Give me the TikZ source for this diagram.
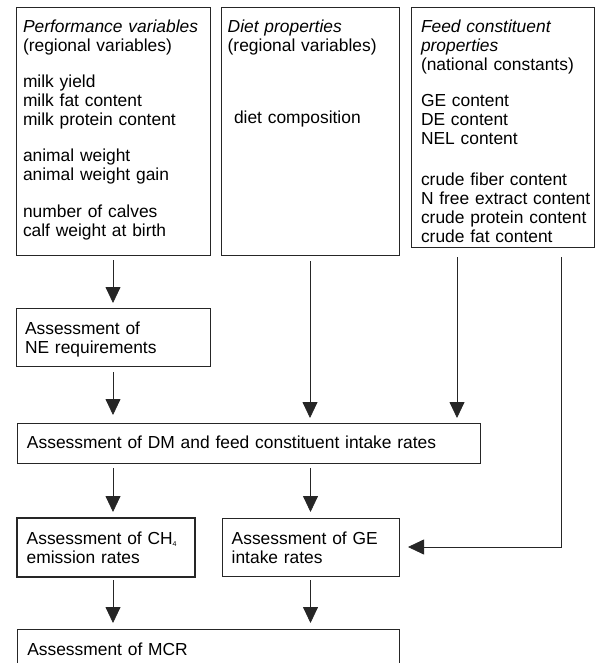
\documentclass[tikz,border=0pt]{standalone}
\usepackage{fontspec}
\setmainfont{Liberation Sans}
\usetikzlibrary{arrows.meta,calc}
\begin{document}
\begin{tikzpicture}[x=1pt,y=-1pt,
  box/.style={draw=black!85,line width=0.8pt,inner sep=0pt,outer sep=0pt,anchor=north west},
  thickbox/.style={box,line width=2.2pt},
  txt/.style={inner sep=0pt,outer sep=0pt,anchor=base west,align=left,text width=190pt},
  arr/.style={draw=black!85,line width=0.8pt,-{Triangle[length=16pt,width=15pt]}},
  font=\fontsize{17.4}{19}\selectfont]
\clip (0,0) rectangle (613,663);
\fill[white] (0,0) rectangle (613,663);
% boxes
\node[box,minimum width=194pt,minimum height=248pt] (perf) at (16,7) {};
\node[box,minimum width=178pt,minimum height=248pt] (diet) at (221,7) {};
\node[box,minimum width=183pt,minimum height=240pt] (feed) at (411,7) {};
\node[box,minimum width=194pt,minimum height=58pt] (ne) at (16,308) {};
\node[box,minimum width=462.5pt,minimum height=40pt] (dm) at (17.5,423) {};
\node[thickbox,minimum width=178pt,minimum height=59pt] (ch) at (17,518) {};
\node[box,minimum width=177pt,minimum height=58pt] (ge) at (222,518) {};
\node[box,minimum width=382pt,minimum height=80pt] (mcr) at (17,629) {};
% texts
\node[txt] (perfT) at (23,32.3) {\textit{Performance variables}\\(regional variables)\\[17pt]
milk yield\\milk fat content\\milk protein content\\[17.5pt]
animal weight\\animal weight gain\\[17.5pt]
number of calves\\calf weight at birth};
\node[txt] (dietT) at (227.7,32.3) {\textit{Diet properties}\\(regional variables)};
\node[txt] (dietC) at (234,124) {diet composition};
\node[txt] (feedT) at (421,32.3) {\textit{Feed constituent}\\\textit{properties}\\(national constants)\\[17.5pt]
GE content\\DE content\\NEL content\\[21.5pt]
crude fiber content\\N free extract content\\crude protein content\\crude fat content};
\node[txt] (neT) at (25,334) {Assessment of\\NE requirements};
\node[txt,text width=450pt] (dmT) at (27,448) {Assessment of DM and feed constituent intake rates};
\node[txt] (chT) at (26.7,544) {Assessment of CH\raisebox{-2.5pt}{\fontsize{7}{7}\selectfont 4}\\emission rates};
\node[txt] (geT) at (231.7,544) {Assessment of GE\\intake rates};
\node[txt] (mcrT) at (27.3,655) {Assessment of MCR};
% arrows
\draw[arr,shorten <=5pt,shorten >=5pt] (perf.south) -- (ne.north);
\draw[arr,shorten <=6pt,shorten >=8pt] (ne.south) -- (ne.south |- dm.north);
\draw[arr,shorten <=6pt,shorten >=5pt] (diet.south) -- (diet.south |- dm.north);
\draw[arr,shorten <=10pt,shorten >=5pt] ([xshift=46pt]feed.south west) -- ([xshift=46pt]feed.south west |- dm.north);
\draw[arr,shorten <=10pt,shorten >=9pt] ([xshift=-33pt]feed.south east) |- (ge.east);
\draw[arr,shorten <=5pt,shorten >=6pt] (ne.south |- dm.south) -- (ne.south |- ch.north);
\draw[arr,shorten <=5pt,shorten >=6pt] (ge.north |- dm.south) -- (ge.north);
\draw[arr,shorten <=3pt,shorten >=6pt] (ne.south |- ch.south) -- (ne.south |- mcr.north);
\draw[arr,shorten <=4pt,shorten >=6pt] (ge.south) -- (ge.south |- mcr.north);
\end{tikzpicture}
\end{document}
